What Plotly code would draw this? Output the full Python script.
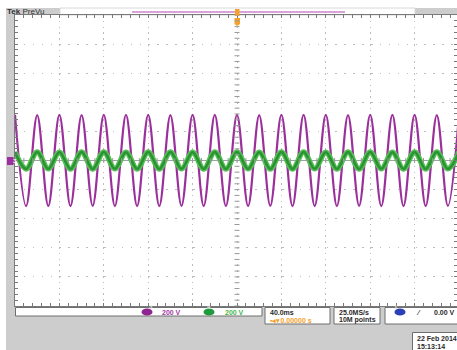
import plotly.graph_objects as go

# ---- acquisition settings ----
time_per_div_ms = 40.0          # horizontal scale
volts_per_div = 200.0           # CH3 and CH4 vertical scale
half_period_ms = 10.0           # spacing between a crest and the next trough (50 Hz mains)
t_start_ms = -200.0             # time of the first crest (left edge of the graticule)

# ---- CH3 (magenta): crest / trough voltages, one entry per half cycle ----
ch3_crests_v = [314, 312, 314, 312, 314, 313, 314, 312, 314, 313, 314,
                312, 314, 313, 314, 312, 314, 313, 314, 312, 314]
ch3_troughs_v = [-314, -313, -314, -312, -314, -313, -314, -312, -314, -313,
                 -314, -312, -314, -313, -314, -312, -314, -313, -314, -312]

# ---- CH4 (green): crest / trough voltages ----
ch4_crests_v = [58, 58, 57, 58, 58, 57, 58, 58, 57, 58, 58,
                57, 58, 58, 57, 58, 58, 57, 58, 58, 57]
ch4_troughs_v = [-58, -57, -58, -58, -57, -58, -58, -57, -58, -58,
                 -57, -58, -58, -57, -58, -58, -57, -58, -58, -57]


def build_trace(crests, troughs):
    """Alternate crest and trough samples; the spline rounds them into a sine."""
    xs, ys = [], []
    for i, c in enumerate(crests):
        t_c = t_start_ms + 2 * i * half_period_ms
        xs.append(t_c)
        ys.append(c)
        if i < len(troughs):
            xs.append(t_c + half_period_ms)
            ys.append(troughs[i])
    return xs, ys


x3, y3 = build_trace(ch3_crests_v, ch3_troughs_v)
x4, y4 = build_trace(ch4_crests_v, ch4_troughs_v)

# ---- page geometry (pixels) ----
W, H = 457, 350
ML, MR, MT, MB = 15, 0, 15, 44
PW, PH = W - ML - MR, H - MT - MB


def fx(px):
    return (px - ML) / PW


def fy(py):
    return (H - MB - py) / PH


px_per_div_x = 44.4
x_max = (W - ML - 5 * px_per_div_x) / px_per_div_x * time_per_div_ms

MAGENTA = "#9b2f9b"
GREEN = "#2a9232"
GREEN_LIGHT = "#55c055"
ORANGE = "#f5a12a"
GRID = "#bcbcbc"
FRAME = "#7a7a7a"
PANEL = "#cdcdcd"
FONT = "Liberation Sans"

fig = go.Figure()
fig.add_trace(go.Scatter(x=x3, y=y3, mode="lines",
                         line=dict(color=MAGENTA, width=2.2, shape="spline", smoothing=1),
                         hoverinfo="skip", showlegend=False))
fig.add_trace(go.Scatter(x=x4, y=y4, mode="lines",
                         line=dict(color=GREEN_LIGHT, width=5.5, shape="spline", smoothing=1),
                         hoverinfo="skip", showlegend=False))
fig.add_trace(go.Scatter(x=x4, y=y4, mode="lines",
                         line=dict(color=GREEN, width=2.6, shape="spline", smoothing=1),
                         hoverinfo="skip", showlegend=False))

shapes = []
annotations = []

# white page strips outside the grey instrument panel
shapes.append(dict(type="rect", xref="paper", yref="paper", x0=fx(0), x1=fx(W), y0=fy(8), y1=fy(0),
                   fillcolor="white", line_width=0, layer="below"))
shapes.append(dict(type="rect", xref="paper", yref="paper", x0=fx(0), x1=fx(6), y0=fy(H), y1=fy(0),
                   fillcolor="white", line_width=0, layer="below"))

# record view bar along the top
shapes.append(dict(type="rect", xref="paper", yref="paper", x0=fx(60), x1=fx(415), y0=fy(15), y1=fy(8),
                   fillcolor="white", line=dict(color="#d8d8d8", width=1), layer="below"))
shapes.append(dict(type="line", xref="paper", yref="paper", x0=fx(132), x1=fx(345), y0=fy(12), y1=fy(12),
                   line=dict(color="#d9a3d9", width=2)))
# trigger position marker
shapes.append(dict(type="rect", xref="paper", yref="paper", x0=fx(235), x1=fx(239.5), y0=fy(16), y1=fy(9),
                   fillcolor=ORANGE, line_width=0))
shapes.append(dict(type="path", xref="paper", yref="paper",
                   path=f"M{fx(234.5)},{fy(18)} L{fx(240)},{fy(18)} L{fx(240)},{fy(24)} "
                        f"L{fx(237.2)},{fy(26)} L{fx(234.5)},{fy(24)} Z",
                   fillcolor=ORANGE, line_width=0))

# small division ticks along the centre cross-hair
t = -200.0
while t <= x_max:
    shapes.append(dict(type="line", xref="x", yref="y", ysizemode="pixel", yanchor=0,
                       x0=t, x1=t, y0=-2.5, y1=2.5, line=dict(color="#9a9a9a", width=1)))
    t += time_per_div_ms / 5
v = -1000.0
while v <= 1000:
    shapes.append(dict(type="line", xref="x", yref="y", xsizemode="pixel", xanchor=0,
                       x0=-2.5, x1=2.5, y0=v, y1=v, line=dict(color="#9a9a9a", width=1)))
    v += volts_per_div / 5

# CH3 ground reference tag at the left edge
shapes.append(dict(type="path", xref="paper", yref="paper",
                   path=f"M{fx(7)},{fy(157)} L{fx(13)},{fy(157)} L{fx(15.5)},{fy(161)} "
                        f"L{fx(13)},{fy(165)} L{fx(7)},{fy(165)} Z",
                   fillcolor=MAGENTA, line_width=0))
annotations.append(dict(xref="paper", yref="paper", x=fx(10.5), y=fy(161), text="<b>3</b>",
                        showarrow=False, font=dict(size=6, color="white", family=FONT)))


# readout boxes below the graticule
def box(x0, x1, y0, y1):
    shapes.append(dict(type="rect", xref="paper", yref="paper", x0=fx(x0), x1=fx(x1),
                       y0=fy(y1), y1=fy(y0), fillcolor="white",
                       line=dict(color="#6e6e6e", width=1)))


box(15.5, 262, 307.5, 316)
box(265, 330, 307.5, 324)
box(334, 380, 307.5, 324)
box(385, 460, 307.5, 324)
box(412.5, 460, 332.5, 352)


def chip(xc, yc, color, label):
    shapes.append(dict(type="circle", xref="paper", yref="paper", x0=fx(xc - 5.5), x1=fx(xc + 5.5),
                       y0=fy(yc + 3.6), y1=fy(yc - 3.6), fillcolor=color, line_width=0))
    annotations.append(dict(xref="paper", yref="paper", x=fx(xc), y=fy(yc), text=f"<b>{label}</b>",
                            showarrow=False, font=dict(size=6, color="#e8e8e8", family=FONT)))


def label(px, py, text, color="#2a2a2a", size=7, anchor="left"):
    annotations.append(dict(xref="paper", yref="paper", x=fx(px), y=fy(py), text=text,
                            showarrow=False, xanchor=anchor, yanchor="middle",
                            font=dict(size=size, color=color, family=FONT)))


chip(147, 312, "#8f248f", "3")
label(160, 312, f"<b>{volts_per_div:.0f} V</b>", color="#a33aa3")
chip(209, 312, "#1f9a3c", "4")
label(223, 312, f"<b>{volts_per_div:.0f} V</b>", color="#3fb84a")
label(268, 312, f"<b>{time_per_div_ms:.1f}ms</b>")
label(268, 320, "<b>▪◂▾0.00000 s</b>", color=ORANGE)
label(337, 312, "<b>25.0MS/s</b>")
label(337, 320, "<b>10M points</b>")
chip(400, 312, "#2b3fb5", "1")
label(414, 312, "<b>⁄</b>")
label(457, 312, "<b>0.00 V</b>", anchor="right")
label(415, 338, "<b>22 Feb 2014</b>")
label(415, 346, "<b>15:13:14</b>")
label(5, 11.5, "<b>Tek</b> PreVu", color="#303030", size=8)

axis_common = dict(showticklabels=False, showline=True, linecolor=FRAME, linewidth=1,
                   mirror="allticks", ticks="inside", ticklen=3, tickcolor=FRAME,
                   tickmode="linear", tick0=0, showgrid=True, gridcolor=GRID, gridwidth=1,
                   fixedrange=True)

fig.update_layout(
    width=W, height=H,
    margin=dict(l=ML, r=MR, t=MT, b=MB, pad=0),
    paper_bgcolor=PANEL, plot_bgcolor="white",
    xaxis=dict(range=[-5 * time_per_div_ms, x_max], dtick=time_per_div_ms, zeroline=False,
               griddash="1.5px,4.3px",
               minor=dict(dtick=time_per_div_ms / 5, ticks="inside", ticklen=3, tickcolor=FRAME,
                          showgrid=False),
               **axis_common),
    yaxis=dict(range=[-5 * volts_per_div, 5 * volts_per_div], dtick=volts_per_div,
               zeroline=True, zerolinecolor="#a2a2a2", zerolinewidth=1,
               griddash="1.5px,7.4px",
               minor=dict(dtick=volts_per_div / 5, ticks="inside", ticklen=3, tickcolor=FRAME,
                          showgrid=False),
               **axis_common),
    shapes=shapes,
    annotations=annotations,
    showlegend=False,
)

fig.write_html("out.html", config={"displayModeBar": False})
